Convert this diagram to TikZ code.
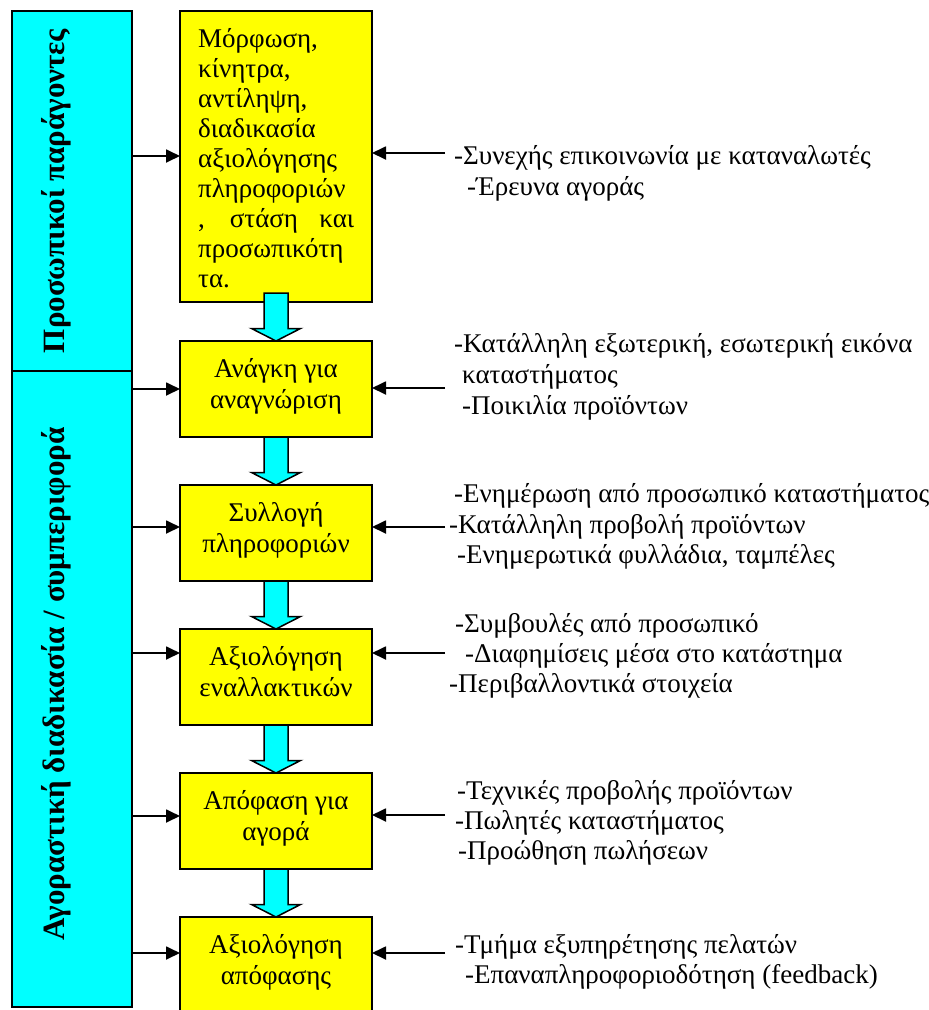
\documentclass[tikz,border=0pt]{standalone}
\usepackage{fontspec}
\setmainfont{Liberation Serif}
\usetikzlibrary{arrows.meta,calc}
\definecolor{cya}{HTML}{00FFFF}
\definecolor{yel}{HTML}{FFFF00}
\newcommand\txtfont{\fontsize{27}{31}\selectfont}
\newcommand\lblfont{\fontsize{31}{36}\selectfont\bfseries}
\newcommand\blockarr[3]{%
  \draw[barrow] ($(#1.south)+(-12,-#2)$) -- ($(#3.north)+(-12,-12.5)$) -- ($(#3.north)+(-24.5,-12.5)$) -- (#3.north) -- ($(#3.north)+(24.5,-12.5)$) -- ($(#3.north)+(12,-12.5)$) -- ($(#1.south)+(12,-#2)$) -- cycle;}
\tikzset{
  cbox/.style={draw=black, line width=1.8pt, fill=cya, inner sep=0pt, outer sep=0pt, anchor=north west, minimum width=120pt},
  ybox/.style={draw=black, line width=1.8pt, fill=yel, inner sep=0pt, outer sep=0pt, anchor=north west, minimum width=192pt},
  txt/.style={font=\txtfont, inner sep=0pt, anchor=base west},
  ctxt/.style={font=\txtfont, inner sep=0pt, anchor=base},
  lbl/.style={font=\lblfont, inner sep=0pt, anchor=base, rotate=90},
  arr/.style={line width=1.8pt, -{Triangle[length=14pt,width=13pt]}},
  barrow/.style={draw=black, line width=1.5pt, fill=cya, line join=miter},
}
\begin{document}
\begin{tikzpicture}[x=1pt, y=-1pt]
\useasboundingbox (0,0) rectangle (929,1010);
\clip (0,0) rectangle (929,1010);
\fill[white] (0,0) rectangle (929,1010);

% left cyan column
\node[cbox, minimum height=360pt] (pf) at (12,11) {};
\node[cbox, minimum height=636pt] (ab) at (12,371) {};
\node[lbl] (lpf) at (64,191) {Προσωπικοί παράγοντες};
\node[lbl] (lab) at (64,684) {Αγοραστική διαδικασία / συμπεριφορά};

% yellow boxes
\node[ybox, minimum height=291pt] (b1) at (180,11) {};
\node[ybox, minimum height=96pt] (b2) at (180,341) {};
\node[ybox, minimum height=96pt] (b3) at (180,485) {};
\node[ybox, minimum height=96pt] (b4) at (180,629) {};
\node[ybox, minimum height=96pt] (b5) at (180,773) {};
\node[ybox, minimum height=96pt] (b6) at (180,917) {};

% block arrows
\blockarr{b1}{9}{b2}
\blockarr{b2}{0}{b3}
\blockarr{b3}{0}{b4}
\blockarr{b4}{0}{b5}
\blockarr{b5}{0}{b6}

% text of box 1
\node[txt] (t11) at (198,47) {Μόρφωση,};
\node[txt] (t12) at (198,77.1) {κίνητρα,};
\node[txt] (t13) at (198,107.2) {αντίληψη,};
\node[txt] (t14) at (198,137.3) {διαδικασία};
\node[txt] (t15) at (198,167.4) {αξιολόγησης};
\node[txt] (t16) at (198,197.5) {πληροφοριών};
\node[txt] (t17) at (198,227.6) {\makebox[156pt][s]{, στάση και}};
\node[txt] (t18) at (198,257.7) {προσωπικότη};
\node[txt] (t19) at (198,287.8) {τα.};

% text of boxes 2-6
\node[ctxt] (t21) at (276,377) {Ανάγκη για};
\node[ctxt] (t22) at (276,408) {αναγνώριση};
\node[ctxt] (t31) at (276,521) {Συλλογή};
\node[ctxt] (t32) at (276,552) {πληροφοριών};
\node[ctxt] (t41) at (276,665) {Αξιολόγηση};
\node[ctxt] (t42) at (276,696) {εναλλακτικών};
\node[ctxt] (t51) at (276,809) {Απόφαση για};
\node[ctxt] (t52) at (276,840) {αγορά};
\node[ctxt] (t61) at (276,953) {Αξιολόγηση};
\node[ctxt] (t62) at (276,984) {απόφασης};

% left arrows
\draw[arr] (pf.east |- 0,156) -- (b1.west |- 0,156);
\draw[arr] (ab.east |- 0,389) -- (b2.west |- 0,389);
\draw[arr] (ab.east |- 0,527) -- (b3.west |- 0,527);
\draw[arr] (ab.east |- 0,653) -- (b4.west |- 0,653);
\draw[arr] (ab.east |- 0,816) -- (b5.west |- 0,816);
\draw[arr] (ab.east |- 0,953) -- (b6.west |- 0,953);

% right arrows
\coordinate (s1) at (445,153);
\coordinate (s2) at (445,388);
\coordinate (s3) at (445,527);
\coordinate (s4) at (445,653);
\coordinate (s5) at (445,815);
\coordinate (s6) at (445,953);
\draw[arr] (s1) -- (b1.east |- s1);
\draw[arr] (s2) -- (b2.east |- s2);
\draw[arr] (s3) -- (b3.east |- s3);
\draw[arr] (s4) -- (b4.east |- s4);
\draw[arr] (s5) -- (b5.east |- s5);
\draw[arr] (s6) -- (b6.east |- s6);

% right texts
\node[txt] (r11) at (454,164) {-Συνεχής επικοινωνία με καταναλωτές};
\node[txt] (r12) at (467,195) {-Έρευνα αγοράς};
\node[txt] (r21) at (454,352) {-Κατάλληλη εξωτερική, εσωτερική εικόνα};
\node[txt] (r22) at (462,383) {καταστήματος};
\node[txt] (r23) at (462,414) {-Ποικιλία προϊόντων};
\node[txt] (r31) at (454,502) {-Ενημέρωση από προσωπικό καταστήματος};
\node[txt] (r32) at (449,533) {-Κατάλληλη προβολή προϊόντων};
\node[txt] (r33) at (457,563) {-Ενημερωτικά φυλλάδια, ταμπέλες};
\node[txt] (r41) at (455,632) {-Συμβουλές από προσωπικό};
\node[txt] (r42) at (465,662) {-Διαφημίσεις μέσα στο κατάστημα};
\node[txt] (r43) at (449,692) {-Περιβαλλοντικά στοιχεία};
\node[txt] (r51) at (457,799) {-Τεχνικές προβολής προϊόντων};
\node[txt] (r52) at (455,829) {-Πωλητές καταστήματος};
\node[txt] (r53) at (458,859) {-Προώθηση πωλήσεων};
\node[txt] (r61) at (455,953) {-Τμήμα εξυπηρέτησης πελατών};
\node[txt] (r62) at (465,983) {-Επαναπληροφοριοδότηση (feedback)};
\end{tikzpicture}
\end{document}
